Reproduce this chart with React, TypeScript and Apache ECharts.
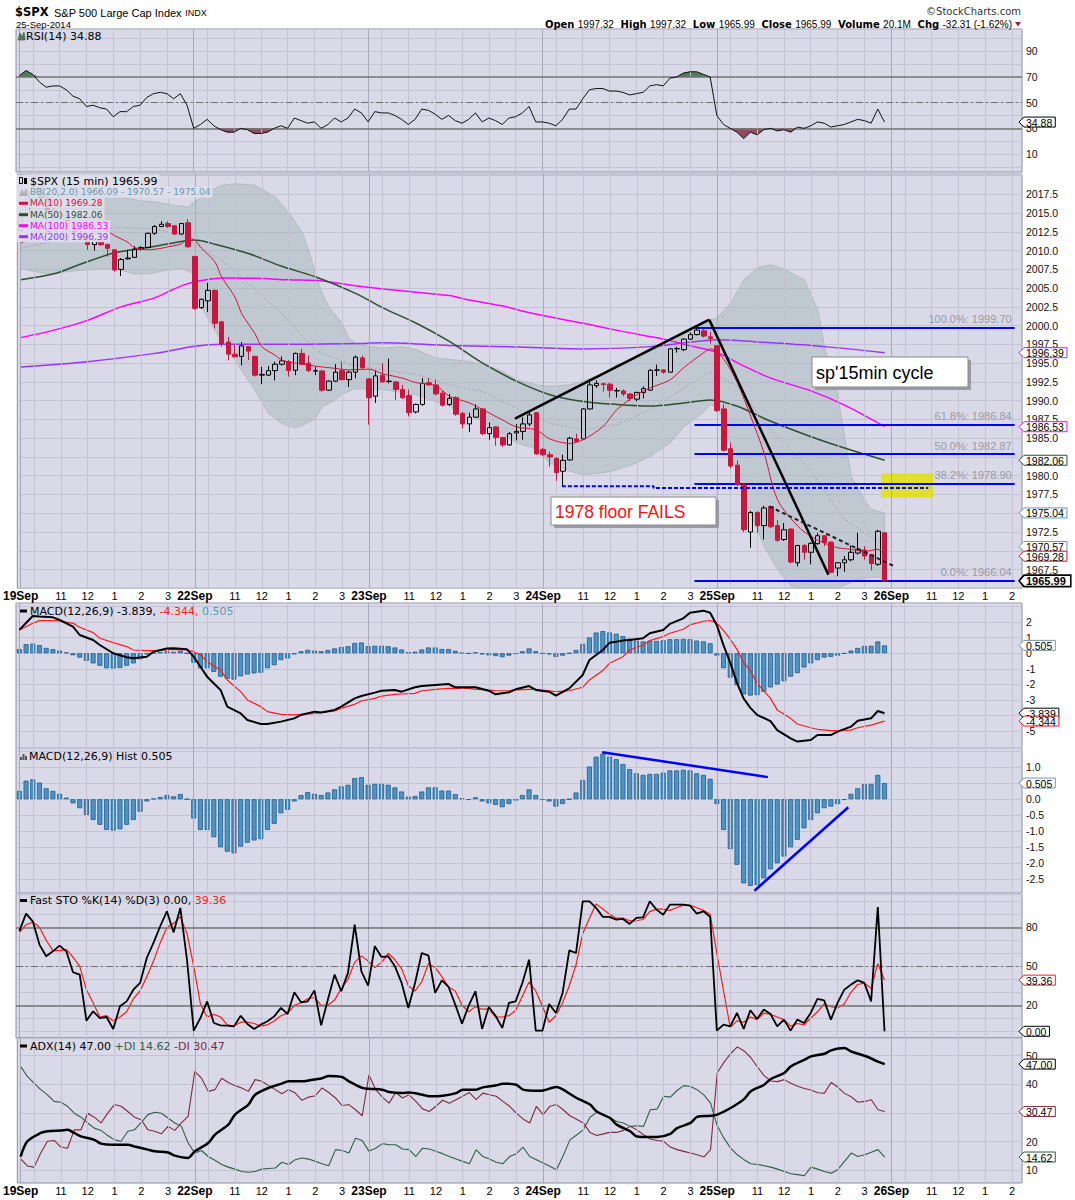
import React, { useEffect, useRef } from 'react';
import * as echarts from 'echarts';

// ---------------- categories (15-min bars) ----------------
const DAYS = ['19Sep', '22Sep', '23Sep', '24Sep', '25Sep', '26Sep'];
const SLOTS = ['09:30','09:45','10:00','10:15','10:30','10:45','11:00','11:15','11:30','11:45','12:00','12:15','12:30','12:45','13:00','13:15','13:30','13:45','14:00','14:15','14:30','14:45','15:00','15:15','15:30','15:45'];
const FUTURE_SLOTS = 20;
const HOUR_LABELS: Record<string, string> = { '11:00': '11', '12:00': '12', '13:00': '1', '14:00': '2', '15:00': '3' };
const GRID_SLOTS = ['10:00', '11:00', '12:00', '13:00', '14:00', '15:00'];

// ---------------- price (OHLC) ----------------
const OPEN = [2012.7,2015.0,2017.8,2018.6,2017.0,2015.3,2014.5,2014.9,2013.6,2012.3,
2011.6,2010.8,2011.3,2010.8,2010.1,2007.5,2008.9,2009.1,2010.2,2010.4,
2012.3,2013.2,2013.6,2013.3,2012.2,2013.7,2009.2,2002.4,2003.3,2004.7,
2000.5,1997.8,1996.2,1995.9,1997.2,1995.9,1993.4,1993.4,1994.0,1994.85,
1995.2,1994.05,1996.3,1995.0,1993.95,1993.96,1991.4,1992.6,1994.0,1992.8,
1993.8,1995.7,1992.9,1990.6,1993.4,1992.55,1992.5,1991.5,1990.7,1988.5,
1989.5,1992.4,1992.1,1991.0,1989.5,1990.4,1988.3,1986.9,1987.8,1988.9,
1985.6,1986.5,1985.1,1984.1,1985.7,1985.9,1986.9,1988.4,1983.5,1982.8,
1982.3,1980.6,1982.1,1984.9,1984.9,1988.9,1992.0,1992.25,1992.2,1991.3,
1991.3,1990.9,1990.2,1991.1,1991.4,1994.05,1994.1,1993.8,1996.9,1996.8,
1998.2,1998.8,1999.3,1998.5,1997.32,1988.9,1983.6,1981.4,1978.8,1972.5,
1975.1,1973.35,1975.9,1973.35,1971.5,1972.9,1968.4,1970.7,1969.8,1970.95,
1972.0,1971.14,1967.7,1968.4,1968.8,1969.7,1970.1,1969.5,1968.2,1972.4];
const CLOSE = [2015.0,2017.8,2018.6,2017.0,2015.3,2014.5,2014.9,2013.6,2012.3,2011.6,
2010.8,2011.3,2010.8,2010.3,2007.4,2008.8,2009.0,2010.2,2010.4,2012.3,
2013.2,2013.5,2013.2,2012.2,2013.6,2010.5,2002.3,2003.5,2004.7,2000.3,
1997.6,1996.2,1995.85,1997.3,1996.6,1993.4,1993.5,1994.0,1994.85,1995.3,
1994.0,1996.3,1994.85,1994.0,1994.0,1991.4,1992.6,1993.8,1992.8,1993.8,
1995.8,1994.4,1990.4,1993.3,1992.5,1992.6,1991.5,1990.4,1988.4,1989.5,
1992.3,1992.1,1990.9,1989.4,1990.3,1988.2,1986.9,1987.8,1988.9,1985.6,
1986.4,1985.1,1984.1,1985.6,1985.9,1986.9,1988.1,1982.9,1982.8,1982.5,
1980.4,1982.05,1985.0,1984.6,1988.9,1992.1,1992.3,1992.15,1991.4,1991.35,
1990.9,1990.3,1991.1,1991.6,1994.05,1994.1,1993.8,1996.9,1996.95,1998.2,
1998.8,1999.4,1998.6,1998.3,1988.7,1983.4,1981.3,1978.8,1972.8,1975.1,
1973.35,1975.7,1973.2,1971.4,1972.8,1968.5,1970.7,1969.8,1971.0,1972.0,
1971.1,1967.13,1968.4,1968.8,1969.8,1970.2,1969.3,1968.3,1972.6,1965.99];
const HIGH = [2015.5,2018.2,2019.26,2018.9,2017.2,2015.8,2015.4,2015.1,2013.8,2012.6,
2011.8,2011.5,2011.4,2010.9,2010.2,2009.0,2010.1,2010.6,2010.6,2012.4,
2013.4,2013.9,2013.9,2013.4,2013.7,2014.2,2009.3,2003.6,2005.7,2004.8,
2000.6,1998.5,1997.5,1997.8,1997.3,1996.0,1994.5,1994.6,1995.2,1995.9,
1995.4,1996.4,1996.9,1996.0,1994.5,1994.1,1992.7,1994.85,1995.2,1994.0,
1996.0,1996.0,1993.0,1994.0,1995.0,1995.6,1992.6,1992.1,1991.5,1989.6,
1993.0,1993.0,1992.8,1991.3,1990.9,1990.6,1988.5,1988.4,1989.5,1989.0,
1987.1,1986.6,1985.2,1985.8,1986.9,1987.8,1988.6,1988.5,1983.7,1983.2,
1982.5,1982.8,1985.2,1985.6,1989.0,1992.9,1992.7,1992.4,1992.4,1991.7,
1991.5,1991.0,1991.2,1991.9,1994.2,1994.8,1994.2,1997.0,1997.2,1998.3,
1999.1,1999.8,1999.6,1999.2,1997.32,1989.5,1984.4,1982.0,1979.0,1975.3,
1975.3,1976.0,1976.0,1974.1,1973.7,1973.0,1970.8,1970.9,1971.1,1972.4,
1972.1,1971.3,1968.5,1969.3,1970.7,1972.4,1970.6,1969.6,1972.8,1972.5];
const LOW = [2012.5,2014.8,2017.3,2016.5,2015.0,2014.0,2014.1,2013.2,2012.0,2011.2,
2010.1,2010.0,2010.6,2009.2,2007.2,2006.6,2008.8,2009.0,2010.0,2010.3,
2012.1,2013.2,2013.0,2012.1,2012.1,2010.4,2002.1,2002.2,2001.8,1999.6,
1997.2,1995.4,1995.8,1994.7,1995.4,1993.2,1992.2,1993.3,1992.7,1994.7,
1993.2,1993.4,1994.7,1993.8,1993.4,1991.2,1991.3,1992.5,1992.7,1991.8,
1993.0,1994.2,1986.8,1989.7,1992.4,1992.3,1990.1,1990.2,1987.9,1988.3,
1989.3,1992.0,1990.7,1989.2,1989.3,1988.0,1986.3,1985.8,1987.7,1985.4,
1984.8,1984.0,1983.8,1984.0,1984.7,1984.8,1986.6,1982.8,1982.6,1981.2,
1979.3,1978.6,1982.0,1984.5,1984.8,1988.8,1991.7,1991.2,1990.4,1990.4,
1990.6,1989.9,1989.9,1990.3,1991.3,1993.3,1993.6,1993.7,1996.4,1996.6,
1998.1,1998.7,1998.4,1997.6,1988.5,1983.2,1981.0,1978.6,1972.5,1970.4,
1972.4,1971.5,1973.0,1971.2,1971.3,1968.3,1967.9,1968.8,1968.2,1970.8,
1970.6,1967.0,1966.6,1967.2,1968.6,1969.5,1968.8,1967.4,1968.0,1965.99];

// ---------------- overlays read at sample bars [bar, value] ----------------
const MA10 = [[0,2011.0],[4,2012.5],[8,2013.3],[12,2013.0],[14,2012.0],[16,2011.1],[17,2010.4],[19,2010.1],[21,2010.3],[22,2010.5],[24,2010.9],[25,2011.6],[26,2011.4],[27,2010.3],[29,2008.5],[30,2006.5],[32,2003.8],[33,2001.6],[35,1998.9],[36,1997.2],[38,1996.05],[39,1995.4],[41,1995.0],[42,1994.9],[44,1994.6],[47,1994.3],[49,1994.1],[52,1994.2],[54,1993.6],[57,1993.0],[59,1992.4],[62,1992.0],[64,1990.6],[67,1989.7],[69,1988.8],[72,1987.4],[74,1986.5],[77,1986.1],[79,1984.9],[82,1984.3],[84,1984.8],[87,1986.6],[89,1988.8],[92,1990.8],[94,1991.7],[97,1992.8],[99,1994.4],[102,1996.4],[103,1996.9],[105,1995.5],[107,1992.4],[109,1987.9],[111,1983.0],[113,1976.8],[116,1973.3],[118,1971.9],[120,1971.0],[122,1970.4],[124,1970.2],[126,1969.9],[128,1970.2],[129,1969.28]];
const MA50 = [[0,2006.1],[5,2006.9],[9,2008.2],[14,2009.7],[19,2010.4],[24,2011.2],[26,2011.4],[29,2010.85],[34,2009.6],[39,2007.9],[44,2006.5],[50,2004.3],[54,2002.4],[59,2000.35],[64,1997.9],[69,1995.0],[74,1992.6],[79,1990.8],[84,1989.9],[89,1989.5],[94,1989.3],[99,1989.7],[103,1990.1],[107,1989.25],[112,1987.25],[118,1985.2],[123,1983.7],[129,1982.06]];
const MA100 = [[0,1998.4],[5,1999.4],[10,2000.7],[15,2002.5],[20,2003.7],[24,2005.3],[27,2006.0],[30,2006.35],[35,2006.3],[40,2006.1],[45,2005.95],[50,2005.3],[56,2004.7],[64,2004.0],[67,2003.4],[72,2002.6],[76,2001.7],[84,2000.3],[90,1999.2],[96,1998.2],[100,1997.3],[104,1996.4],[108,1994.6],[112,1993.0],[118,1991.3],[123,1989.4],[129,1986.53]];
const MA200 = [[0,1994.5],[10,1995.2],[20,1996.3],[26,1997.25],[30,1997.5],[40,1997.5],[50,1997.6],[54,1997.7],[64,1997.35],[74,1997.15],[84,1996.9],[94,1997.2],[100,1997.8],[104,1998.1],[112,1997.7],[120,1997.2],[129,1996.39]];
const BB_UPPER = [[0,2016.0],[5,2018.5],[10,2019.0],[14,2017.3],[18,2016.6],[20,2016.5],[23,2016.0],[25,2015.8],[26,2016.5],[28,2017.8],[30,2018.7],[32,2018.9],[35,2018.7],[38,2017.1],[40,2015.1],[42,2012.5],[43,2010.0],[44,2006.9],[45,2004.3],[46,2002.5],[48,2000.3],[49,1998.3],[50,1997.6],[52,1997.25],[54,1997.0],[57,1997.2],[59,1996.8],[62,1995.7],[64,1995.5],[67,1995.2],[69,1994.8],[72,1993.9],[74,1992.8],[77,1992.1],[79,1991.9],[82,1992.1],[84,1992.6],[87,1993.7],[89,1994.8],[92,1995.6],[94,1996.6],[97,1997.7],[99,1998.8],[102,2000.4],[104,2001.0],[106,2003.0],[108,2006.1],[110,2007.7],[112,2008.1],[114,2007.5],[117,2006.1],[119,2002.1],[120,1997.2],[122,1990.6],[123,1985.3],[124,1979.9],[126,1976.8],[127,1975.5],[129,1975.04]];
const BB_MID = [[0,2010.3],[14,2013.1],[20,2012.9],[24,2012.0],[27,2010.3],[30,2008.7],[34,2005.6],[39,2001.6],[44,1996.7],[49,1994.9],[54,1994.1],[59,1993.5],[64,1992.1],[69,1991.2],[74,1989.0],[79,1987.0],[84,1986.1],[89,1986.8],[94,1988.8],[99,1991.7],[103,1993.8],[107,1991.9],[112,1986.1],[118,1980.6],[123,1974.2],[129,1970.57]];
const BB_LOWER = [[0,2007.6],[4,2006.9],[9,2007.4],[14,2007.6],[17,2006.9],[19,2006.9],[22,2007.4],[24,2007.6],[26,2006.9],[27,2002.5],[29,1999.4],[31,1996.7],[33,1994.05],[35,1991.4],[37,1988.3],[39,1986.95],[41,1986.4],[42,1986.7],[44,1987.6],[45,1989.2],[47,1990.1],[48,1990.9],[50,1991.6],[54,1991.5],[59,1990.8],[64,1989.25],[69,1987.25],[74,1984.4],[77,1983.6],[79,1981.7],[82,1980.6],[84,1980.15],[87,1980.4],[89,1980.8],[92,1981.7],[94,1982.6],[97,1984.4],[99,1986.5],[102,1988.5],[103,1989.5],[104,1989.0],[105,1987.5],[106,1984.0],[107,1980.0],[108,1977.0],[109,1975.0],[111,1970.6],[113,1967.5],[115,1965.3],[117,1964.6],[120,1964.6],[122,1965.0],[124,1965.8],[126,1966.4],[128,1966.5],[129,1966.09]];

// ---------------- indicators ----------------
const RSI = [71,75,72,66,62,63,63,60,55,53,47,48,46,45,39,43,43,47,48,54,
57,58,57,53,57,48,30,33,37,32,29,27,27,30,29,26,26,27,30,32,
30,38,36,34,35,30,33,38,35,38,45,42,35,43,42,42,40,37,33,37,
45,44,41,37,40,36,34,37,42,35,38,36,33,38,39,42,47,35,35,34,
32,37,45,45,53,60,61,61,59,59,58,56,57,58,63,64,63,69,70,73,
74,74,72,70,40,33,30,27,22,27,25,29,30,28,29,27,31,30,32,35,
34,31,32,33,35,37,36,34,45,34.88];
const MACD = [[0,1.5],[2,2.39],[3,2.35],[5,2.3],[6,2.13],[8,1.71],[9,1.17],[11,0.85],[12,0.53],[14,0.0],[16,-0.26],[17,-0.32],[19,-0.22],[20,0.1],[22,0.3],[23,0.32],[25,0.25],[26,-0.22],[27,-0.86],[28,-1.5],[30,-2.35],[31,-3.42],[33,-3.85],[34,-4.28],[36,-4.53],[37,-4.53],[39,-4.38],[41,-4.17],[42,-3.95],[44,-3.74],[45,-3.8],[47,-3.63],[48,-3.42],[50,-2.89],[51,-2.74],[53,-2.52],[54,-2.4],[56,-2.35],[57,-2.46],[59,-2.18],[60,-2.1],[62,-2.03],[64,-1.97],[65,-2.18],[67,-2.18],[68,-2.18],[70,-2.4],[71,-2.63],[73,-2.5],[74,-2.31],[76,-2.1],[77,-2.35],[79,-2.46],[80,-2.72],[82,-2.25],[84,-1.39],[85,-0.43],[87,0.21],[88,0.68],[90,0.81],[91,0.85],[93,0.96],[94,1.28],[96,1.49],[97,1.88],[99,2.24],[100,2.6],[102,2.73],[103,2.6],[104,1.8],[105,0.5],[106,-0.6],[107,-1.9],[108,-2.9],[109,-3.5],[110,-3.95],[112,-4.35],[113,-4.92],[115,-5.45],[116,-5.66],[118,-5.56],[119,-5.24],[121,-5.24],[122,-5.02],[124,-4.7],[125,-4.32],[127,-4.17],[128,-3.7],[129,-3.839]];
const SIGNAL = [[0,1.49],[2,1.92],[3,2.09],[5,2.09],[6,2.07],[8,1.92],[9,1.67],[11,1.32],[12,0.96],[14,0.68],[16,0.43],[17,0.21],[19,0.17],[20,0.17],[22,0.21],[23,0.25],[25,0.21],[26,0.1],[27,-0.11],[28,-0.54],[30,-1.07],[31,-1.71],[33,-2.46],[34,-2.99],[36,-3.42],[37,-3.74],[39,-3.91],[41,-3.95],[42,-3.91],[44,-3.85],[45,-3.8],[47,-3.7],[48,-3.53],[50,-3.27],[51,-3.06],[53,-2.89],[54,-2.74],[56,-2.63],[57,-2.61],[59,-2.57],[60,-2.4],[62,-2.31],[64,-2.25],[65,-2.25],[67,-2.25],[68,-2.31],[70,-2.35],[71,-2.4],[73,-2.4],[74,-2.35],[76,-2.31],[77,-2.31],[79,-2.4],[80,-2.46],[82,-2.4],[84,-2.18],[85,-1.71],[87,-1.11],[88,-0.64],[90,-0.22],[91,0.21],[93,0.53],[94,0.81],[96,1.07],[97,1.28],[99,1.54],[100,1.82],[102,2.05],[103,2.1],[104,1.95],[105,1.45],[106,0.9],[107,0.25],[108,-0.6],[109,-1.1],[110,-1.93],[112,-2.89],[113,-3.63],[115,-4.17],[116,-4.53],[118,-4.77],[119,-4.87],[121,-4.96],[122,-4.96],[124,-4.92],[125,-4.77],[127,-4.6],[129,-4.344]];
const HIST = [0.26,0.58,0.62,0.52,0.34,0.26,0.17,0.05,-0.13,-0.28,-0.49,-0.65,-0.8,-0.96,-0.98,-0.94,-0.8,-0.65,-0.39,-0.07,
0.02,0.07,0.13,0.09,0.16,0.0,-0.6,-0.96,-0.96,-1.19,-1.5,-1.64,-1.69,-1.48,-1.36,-1.29,-1.25,-0.96,-0.77,-0.44,
-0.33,-0.07,0.13,0.22,0.17,0.13,0.21,0.31,0.4,0.45,0.66,0.69,0.45,0.48,0.48,0.45,0.37,0.24,0.08,0.1,
0.24,0.37,0.37,0.27,0.27,0.16,0.03,-0.02,0.06,-0.07,-0.13,-0.18,-0.25,-0.15,-0.04,0.13,0.31,0.13,-0.02,-0.07,
-0.23,-0.15,0.0,0.21,0.6,1.02,1.33,1.42,1.33,1.25,1.1,0.94,0.81,0.76,0.79,0.79,0.83,0.9,0.9,0.92,
0.9,0.81,0.76,0.64,-0.15,-0.96,-1.56,-2.05,-2.63,-2.71,-2.68,-2.47,-2.19,-2.0,-1.79,-1.5,-1.27,-0.91,-0.65,-0.44,
-0.28,-0.23,-0.15,-0.02,0.17,0.34,0.47,0.48,0.76,0.505];
const STO_K = [77,90.5,84.6,66.7,57.7,61.5,65.9,61.5,45.4,43.6,8.2,15.4,10.2,11,1.8,19.2,23,32,37.2,56.4,
68,80.8,92.3,76.1,94.9,55,0.5,10.2,23,6.4,4.6,4.3,3.8,12,5.6,1.8,5.1,7.7,11.5,18,
13.3,30,22.3,23,31.5,4.6,24.3,43.6,30.8,44.9,82,46.1,35.1,65.4,57.2,57.7,50,37.2,18,37.2,
60.2,58.2,29.5,39.2,34.1,20.5,5.9,19.7,30.8,1.8,18.7,12,2.6,21.8,23,37.2,55.1,0.5,0.5,21,
14.1,29.5,62.3,60.2,100,100,94.9,88,88,85.9,86.4,82.6,87.2,87.7,100,93.6,89.7,97.4,97.4,97.4,
96.7,90.5,92.3,88,0.5,5.1,3.8,14.1,1.8,16.2,9.5,16.7,13.3,3.8,9,0.5,9,6.4,14.1,24.9,
23.8,9,21.8,32,35.9,39.2,37.2,23,95.6,0.0];
const STO_D = [76,82,84,80,70,62,62,63,57,50,32,22,11,12,8,11,15,25,31,42,
54,68,80,83,88,75,50,21,11,13,11,5,4,7,7,6,4,5,8,12,
14,20,22,25,26,20,20,24,33,40,53,58,54,49,53,60,55,48,35,31,
38,52,49,42,34,31,20,15,19,17,17,11,11,12,16,27,38,31,19,7,
12,22,35,51,75,87,98,94,90,87,87,85,85,86,92,94,94,93,95,97,
97,95,93,90,60,31,3,8,7,11,9,14,13,11,9,4,6,5,10,15,
21,19,18,21,30,36,37,33,52,39.36];
const ADX = [[0,14.8],[1,20.1],[3,23.0],[4,23.6],[6,23.9],[7,24.1],[8,23.0],[9,21.8],[11,20.6],[12,19.3],[14,18.9],[16,18.9],[17,18.3],[19,17.2],[20,16.6],[22,16.2],[23,15.1],[25,14.3],[26,16.6],[28,19.5],[29,22.4],[31,25.9],[32,29.4],[34,32.9],[35,36.3],[37,38.7],[39,40.2],[40,41.0],[42,41.0],[43,41.3],[45,42.1],[46,42.9],[48,42.5],[49,41.0],[51,38.7],[52,38.4],[54,38.1],[55,37.3],[57,36.9],[58,37.1],[60,36.3],[61,35.8],[63,36.0],[65,36.9],[66,38.1],[68,38.1],[69,38.9],[71,39.6],[72,40.2],[74,39.8],[75,38.1],[77,37.7],[78,37.8],[80,39.0],[81,38.1],[83,35.2],[85,32.9],[86,30.5],[88,28.2],[89,25.9],[91,23.6],[92,21.8],[94,21.6],[95,21.6],[97,22.7],[98,24.7],[100,26.5],[101,28.6],[103,29.0],[104,29.4],[106,31.7],[108,34.8],[109,37.5],[111,39.8],[112,41.8],[114,43.9],[115,46.2],[117,48.5],[118,49.7],[120,50.6],[121,51.8],[123,52.6],[124,51.4],[126,49.9],[128,47.9],[129,47.0]];
const PLUS_DI = [46.2,42.7,40.4,38.1,36.3,34.0,33.7,32.3,29.9,28.5,
26.5,24.7,23.9,22.1,20.6,20.1,23.6,24.1,26.7,29.4,
30.2,29.9,28.2,26.5,25.3,19.5,16.0,16.9,14.8,13.5,
12.0,11.1,10.4,9.6,9.3,9.6,10.4,10.6,10.8,12.8,
12.0,13.7,14.3,13.9,13.1,12.3,11.6,17.2,16.9,16.0,
21.2,20.4,16.6,17.7,19.3,18.9,18.9,17.4,17.2,14.8,
17.7,17.4,16.6,15.8,14.8,13.9,13.1,12.3,17.2,14.8,
13.9,12.8,12.3,14.8,15.8,18.1,14.8,13.7,12.5,11.4,
10.2,15.1,20.6,22.3,24.1,28.5,30.2,29.4,28.2,27.0,
26.5,25.3,25.5,25.3,31.1,31.3,35.8,35.5,37.8,39.5,
39.2,38.1,36.3,33.4,25.5,21.2,17.7,15.4,13.7,12.3,
12.0,11.6,11.1,10.4,9.6,8.8,8.5,8.1,11.1,10.4,
9.6,9.0,10.2,13.1,16.0,14.8,15.4,16.3,17.2,14.62];
const MINUS_DI = [14.0,11.5,11.1,16.0,20.1,20.4,18.1,17.7,24.1,24.1,
29.9,28.5,26.5,29.9,32.9,32.3,30.5,28.5,27.6,24.1,
23.6,22.7,25.3,23.9,26.5,28.8,44.5,42.1,37.5,38.1,
42.1,40.6,39.5,38.7,37.5,41.6,41.0,39.5,38.1,36.7,
38.1,36.9,34.4,35.5,36.0,38.7,37.1,35.2,32.5,32.9,
31.1,29.0,43.3,38.1,35.5,33.4,37.1,35.2,36.3,34.0,
31.4,30.5,32.3,34.4,33.4,34.6,35.8,37.1,34.6,36.9,
36.3,35.8,34.0,32.3,29.9,27.9,26.5,32.3,29.4,32.3,
32.9,31.1,29.0,27.8,26.5,23.2,22.1,22.7,23.2,23.2,
23.9,25.3,24.1,22.4,20.9,20.4,20.1,18.1,17.2,16.6,
16.0,15.4,14.6,17.2,44.0,47.6,50.7,53.0,51.6,49.3,
46.0,43.0,41.1,40.9,41.6,40.3,39.3,38.5,38.0,37.0,
36.9,40.6,39.0,36.8,35.6,33.7,34.0,34.6,31.1,30.47];

// ---------------- annotations (bar, value) ----------------
const TREND_UP = [[73.8, 1987.6], [102.8, 2000.8]];
const TREND_DOWN = [[102.8, 2000.8], [120.6, 1966.8]];
const TREND_DASH = [[111.8, 1975.9], [130.5, 1967.9]];
const FLOOR_LINE = [[80.8, 1978.6], [94.5, 1978.6], [94.5, 1978.35], [135.5, 1978.35]];
const FIB_LEVELS = [1999.70, 1986.84, 1982.87, 1978.90, 1966.04];
const FIB_PCTS = ['100.0%', '61.8%', '50.0%', '38.2%', '0.0%'];
const FIB_SPAN = [100.6, 148.4];
const YELLOW_BOX = [[128.5, 1980.3], [136.2, 1977.05]];
const HIST_LINE_1 = [[86.9, 1.47], [111.6, 0.69]];
const HIST_LINE_2 = [[109.6, -2.86], [123.6, -0.25]];

// tick labels per panel (right axis)
const RSI_TICKS = [10, 30, 50, 70, 90];
const PRICE_TICKS = [2017.5, 2015, 2012.5, 2010, 2007.5, 2005, 2002.5, 2000, 1997.5, 1995, 1992.5, 1990, 1987.5, 1985, 1980, 1977.5, 1972.5, 1967.5];
const MACD_TICKS = [2, 1, 0, -1, -2, -3, -5];
const HIST_TICKS = [1, 0, -0.5, -1, -1.5, -2, -2.5];
const STO_TICKS = [20, 50, 80];
const ADX_TICKS = [10, 20, 40, 50];

// ---------------- styling ----------------
const FA = '"Liberation Sans", Arial, sans-serif';
const FV = '"DejaVu Sans", Verdana, sans-serif';
const BG = '#d9d9e8';
const GRIDC = '#c3c3d5';
const DAYC = '#a9a9bb';
const RED = '#c8173f';
const BBC = '#5f9bb3';
const MA10C = '#d0143a';
const MA50C = '#2f4f2f';
const MA100C = '#ff00ff';
const MA200C = '#9933ff';
const PDIC = '#2f5f45';
const MDIC = '#7d2a3e';
const LEFT = 16;
const RIGHT_EDGE = 1022;

const CATS: string[] = [];
DAYS.forEach((d, di) => {
  const n = di === DAYS.length - 1 ? FUTURE_SLOTS : SLOTS.length;
  for (let s = 0; s < n; s++) CATS.push(d + ' ' + SLOTS[s]);
});
const NCAT = CATS.length;

function xLabel(val: string): string {
  const [d, t] = val.split(' ');
  if (t === '09:30') return '{d|' + d + '}';
  if (HOUR_LABELS[t]) return '{h|' + HOUR_LABELS[t] + '}';
  return '';
}

const VLINES = CATS.map((c, i) => {
  const t = c.split(' ')[1];
  if (t === '09:30') return { i, day: true };
  if (GRID_SLOTS.indexOf(t) >= 0) return { i, day: false };
  return null;
}).filter(Boolean) as { i: number; day: boolean }[];

const inTicks = (ticks: number[], v: number) => ticks.some((t) => Math.abs(t - v) < 1e-6);

type Panel = { top: number; height: number; min: number; max: number; step: number; fmt: (v: number) => string };
const PANELS: Panel[] = [
  { top: 29, height: 143, min: -3.97, max: 107.3, step: 10, fmt: (v) => (inTicks(RSI_TICKS, v) ? String(Math.round(v)) : '') },
  { top: 174, height: 414.3, min: 1965, max: 2020.2, step: 2.5, fmt: (v) => (inTicks(PRICE_TICKS, v) ? v.toFixed(1) : '') },
  { top: 603, height: 144.7, min: -6.05, max: 3.22, step: 1, fmt: (v) => (inTicks(MACD_TICKS, v) ? String(Math.round(v)) : '') },
  { top: 748, height: 145, min: -2.93, max: 1.6, step: 0.5, fmt: (v) => (inTicks(HIST_TICKS, v) ? v.toFixed(1) : '') },
  { top: 894, height: 144, min: -5.15, max: 105.6, step: 10, fmt: (v) => (inTicks(STO_TICKS, v) ? String(Math.round(v)) : '') },
  { top: 1038, height: 145, min: 5.57, max: 56.1, step: 10, fmt: (v) => (inTicks(ADX_TICKS, v) ? String(Math.round(v)) : '') },
];

const idx = (arr: number[]) => arr.map((v, i) => [i, v]);

function gridLinesSeries(g: number) {
  return {
    type: 'line', xAxisIndex: 2 * g + 1, yAxisIndex: g, data: [[-10, PANELS[g].min + 1]], symbol: 'none',
    lineStyle: { width: 0 }, silent: true, z: 1,
    markLine: {
      silent: true, symbol: ['none', 'none'], label: { show: false }, animation: false,
      data: VLINES.map((v) => ({ xAxis: v.i, lineStyle: { color: v.day ? DAYC : GRIDC, width: 1, type: 'solid' } })),
    },
  };
}

function lineS(g: number, data: any[], color: string, width: number, extra: any = {}) {
  return { type: 'line', xAxisIndex: 2 * g + 1, yAxisIndex: g, data, symbol: 'none', showSymbol: false, silent: true, lineStyle: { color, width }, z: 4, ...extra };
}

function hLevel(v: number, dashed: boolean) {
  return { yAxis: v, lineStyle: dashed ? { color: '#6e6e6e', width: 1, type: [7, 3, 2, 3] } : { color: '#747474', width: 1.5, type: 'solid' } };
}

function buildOption() {
  const grid = PANELS.map((p) => ({ left: LEFT, right: 1075 - RIGHT_EDGE, top: p.top, height: p.height, show: true, backgroundColor: BG, borderColor: '#8e8e9e', borderWidth: 1 }));
  const xAxis: any[] = [];
  PANELS.forEach((p, g) => {
    const showLab = g === 1 || g === 5;
    xAxis.push({
      type: 'category', gridIndex: g, data: CATS, boundaryGap: true,
      axisLine: { show: false }, axisTick: { show: false }, splitLine: { show: false },
      axisLabel: showLab ? {
        show: true, margin: 2, interval: (i: number, val: string) => xLabel(val) !== '', formatter: (val: string) => xLabel(val),
        rich: { d: { fontWeight: 'bold', fontSize: 12, fontFamily: FA, color: '#000' }, h: { fontSize: 11, fontFamily: FA, color: '#000' } },
      } : { show: false },
    });
    xAxis.push({ type: 'value', gridIndex: g, min: -0.5, max: NCAT - 0.5, show: false, splitLine: { show: false } });
  });
  const yAxis = PANELS.map((p, g) => ({
    type: 'value', gridIndex: g, position: 'right', min: p.min, max: p.max,
    minInterval: p.step, maxInterval: p.step, splitNumber: Math.round((p.max - p.min) / p.step),
    axisLine: { show: false }, axisTick: { show: false },
    splitLine: { show: true, lineStyle: { color: GRIDC, width: 1 } },
    axisLabel: { show: true, margin: 4, color: '#111', fontSize: 10.5, fontFamily: FA, formatter: p.fmt, showMinLabel: false, showMaxLabel: false },
  }));

  const series: any[] = [];
  // RSI panel
  series.push(gridLinesSeries(0));
  series.push(lineS(0, RSI.map((v, i) => [i, Math.max(v, 70)]), '#000', 0, { areaStyle: { origin: 70, color: '#4e7d5e', opacity: 1 }, z: 2 }));
  series.push(lineS(0, RSI.map((v, i) => [i, Math.min(v, 30)]), '#000', 0, { areaStyle: { origin: 30, color: '#8e4c5e', opacity: 1 }, z: 2 }));
  series.push(lineS(0, idx(RSI), '#111', 1, {
    z: 5,
    markLine: { silent: true, symbol: ['none', 'none'], label: { show: false }, data: [hLevel(70, false), hLevel(30, false), hLevel(50, true)] },
  }));

  // Price panel
  series.push(gridLinesSeries(1));
  series.push({
    type: 'custom', xAxisIndex: 3, yAxisIndex: 1, clip: true, silent: true, z: 2, data: [[0, 1990]],
    renderItem: (params: any, api: any) => {
      const pts = BB_UPPER.map((p) => api.coord(p)).concat(BB_LOWER.slice().reverse().map((p) => api.coord(p)));
      return { type: 'polygon', shape: { points: pts }, style: { fill: 'rgba(158,178,176,0.42)', stroke: '#b3bcbd', lineWidth: 1 } };
    },
  });
  series.push(lineS(1, BB_MID, '#a4a4a8', 1, { lineStyle: { color: '#a4a4a8', width: 1, type: [2, 2] }, z: 3 }));
  series.push(lineS(1, MA200, MA200C, 1.5, { smooth: 0.3, z: 3 }));
  series.push(lineS(1, MA100, MA100C, 1.5, { smooth: 0.3, z: 3 }));
  series.push(lineS(1, MA50, MA50C, 1.5, { smooth: 0.3, z: 3 }));
  series.push(lineS(1, [[-10, 1990]], '#000', 0, {
    z: 3,
    markArea: { silent: true, itemStyle: { color: 'rgba(226,226,10,0.85)' }, data: [[{ coord: YELLOW_BOX[0] }, { coord: YELLOW_BOX[1] }]] },
  }));
  series.push({
    type: 'candlestick', xAxisIndex: 2, yAxisIndex: 1, z: 5, barWidth: 5, silent: true,
    data: OPEN.map((o, i) => [o, CLOSE[i], LOW[i], HIGH[i]]),
    itemStyle: { color: 'rgba(0,0,0,0)', color0: RED, borderColor: '#000', borderColor0: RED, borderWidth: 1 },
  });
  series.push(lineS(1, MA10, MA10C, 1, { smooth: 0.3, z: 6 }));
  series.push(lineS(1, [[-10, 1990]], '#000', 0, {
    z: 7,
    markLine: {
      silent: true, symbol: ['none', 'none'],
      data: FIB_LEVELS.map((lv, k) => [
        { coord: [FIB_SPAN[0], lv], lineStyle: { color: '#0000ff', width: 2, type: 'solid' }, label: { show: true, position: 'insideEndTop', formatter: FIB_PCTS[k] + ': ' + lv.toFixed(2), color: '#9a9aa4', fontSize: 11, fontFamily: FA, distance: 3 } },
        { coord: [FIB_SPAN[1], lv] },
      ]),
    },
  }));
  series.push(lineS(1, FLOOR_LINE, '#0000ff', 2, { lineStyle: { color: '#0000ff', width: 2, type: [4, 2] }, z: 8 }));
  series.push(lineS(1, TREND_UP, '#000', 2.5, { z: 9 }));
  series.push(lineS(1, TREND_DOWN, '#000', 2.5, { z: 9 }));
  series.push(lineS(1, TREND_DASH, '#222', 2, { lineStyle: { color: '#222', width: 2, type: [4, 3] }, z: 9 }));

  // MACD panel
  series.push(gridLinesSeries(2));
  series.push({ type: 'bar', xAxisIndex: 4, yAxisIndex: 2, data: HIST, barWidth: 5, silent: true, z: 3, itemStyle: { color: '#4a95c6', borderColor: '#1f5c8c', borderWidth: 0.8 } });
  series.push(lineS(2, SIGNAL, '#ff1a1a', 1.2, { z: 4 }));
  series.push(lineS(2, MACD, '#000', 2, { z: 5 }));

  // Histogram panel
  series.push(gridLinesSeries(3));
  series.push({ type: 'bar', xAxisIndex: 6, yAxisIndex: 3, data: HIST, barWidth: 5, silent: true, z: 3, itemStyle: { color: '#4a95c6', borderColor: '#1f5c8c', borderWidth: 0.8 } });
  series.push(lineS(3, HIST_LINE_1, '#0000ff', 2.5, { z: 6 }));
  series.push(lineS(3, HIST_LINE_2, '#0000ff', 2.5, { z: 6 }));

  // Fast stochastic panel
  series.push(gridLinesSeries(4));
  series.push(lineS(4, idx(STO_D), '#ff1a1a', 1.2, {
    z: 4,
    markLine: { silent: true, symbol: ['none', 'none'], label: { show: false }, data: [hLevel(80, false), hLevel(20, false), hLevel(50, true)] },
  }));
  series.push(lineS(4, idx(STO_K), '#000', 1.8, { z: 5 }));

  // ADX panel
  series.push(gridLinesSeries(5));
  series.push(lineS(5, idx(PLUS_DI), PDIC, 1.1, { z: 4 }));
  series.push(lineS(5, idx(MINUS_DI), MDIC, 1.1, { z: 4 }));
  series.push(lineS(5, ADX, '#000', 2.5, { smooth: 0.3, z: 5 }));

  return { animation: false, backgroundColor: '#ffffff', grid, xAxis, yAxis, series };
}

function textW(s: string, size = 11) {
  let w = 0;
  for (const ch of s) w += ch === '.' ? 0.28 : ch === '-' ? 0.34 : 0.556;
  return w * size;
}

function buildGraphic(chart: any) {
  const els: any[] = [];
  const T = (x: number, y: number, text: string, font: string, fill: string, extra: any = {}) =>
    els.push({ type: 'text', x, y, z: 50, silent: true, style: { text, font, fill, verticalAlign: 'middle', ...extra } });

  // header
  T(15, 12, '$SPX', 'bold 11.5px ' + FV, '#000');
  els.push({
    type: 'text', x: 54, y: 12.5, z: 50, silent: true,
    style: { verticalAlign: 'middle', text: '{a|S&P 500 Large Cap Index} {b|INDX}', rich: { a: { font: '11px ' + FA, fill: '#000' }, b: { font: '9px ' + FA, fill: '#000' } } },
  });
  T(16, 24, '25-Sep-2014', '9.5px ' + FA, '#000');
  T(1021, 11, '©StockCharts.com', '10px ' + FV, '#333', { align: 'right' });
  els.push({
    type: 'text', x: 1012, y: 24, z: 50, silent: true,
    style: {
      align: 'right', verticalAlign: 'middle',
      text: '{b|Open} {n|1997.32}  {b|High} {n|1997.32}  {b|Low} {n|1965.99}  {b|Close} {n|1965.99}  {b|Volume} {n|20.1M}  {b|Chg} {n|-32.31 (-1.62%)}',
      rich: { b: { font: 'bold 10px ' + FV, fill: '#000' }, n: { font: '10px ' + FA, fill: '#000' } },
    },
  });
  els.push({ type: 'polygon', z: 50, silent: true, shape: { points: [[1015, 22], [1021, 22], [1018, 26.5]] }, style: { fill: '#a0183a' } });

  // RSI legend
  els.push({ type: 'polygon', z: 50, silent: true, shape: { points: [[18, 40], [20, 33], [22, 37], [24, 32], [25, 40]] }, style: { fill: '#4e7d5e', stroke: '#2e4e3e', lineWidth: 0.6 } });
  T(26, 36, 'RSI(14) 34.88', '11px ' + FV, '#000');

  // price legend
  const rowsY = [181, 192.3, 203.3, 214.7, 225.7, 236.7];
  els.push({ type: 'rect', z: 48, silent: true, shape: { x: 17, y: 175, width: 12, height: 67 }, style: { fill: 'rgba(222,222,236,0.92)' } });
  const rowBg = { backgroundColor: 'rgba(222,222,236,0.92)', padding: [1, 2, 1, 1] };
  T(29, rowsY[0], '$SPX (15 min) 1965.99', '11px ' + FV, '#000', rowBg);
  T(29, rowsY[1], 'BB(20,2.0) 1966.09 - 1970.57 - 1975.04', '9px ' + FV, BBC, rowBg);
  T(29, rowsY[2], 'MA(10) 1969.28', '9px ' + FV, MA10C, rowBg);
  T(29, rowsY[3], 'MA(50) 1982.06', '9px ' + FV, MA50C, rowBg);
  T(29, rowsY[4], 'MA(100) 1986.53', '9px ' + FV, MA100C, rowBg);
  T(29, rowsY[5], 'MA(200) 1996.39', '9px ' + FV, MA200C, rowBg);
  els.push({ type: 'rect', z: 51, silent: true, shape: { x: 19.5, y: 177.5, width: 3, height: 6 }, style: { fill: 'none', stroke: '#000', lineWidth: 1 } });
  els.push({ type: 'rect', z: 51, silent: true, shape: { x: 24, y: 178, width: 3, height: 6 }, style: { fill: '#000' } });
  els.push({ type: 'polygon', z: 51, silent: true, shape: { points: [[19, 196], [22, 189], [24, 193], [26, 188], [28, 196]] }, style: { fill: '#b0b0b8' } });
  [[MA10C, rowsY[2]], [MA50C, rowsY[3]], [MA100C, rowsY[4]], [MA200C, rowsY[5]]].forEach(([c, y]: any) => {
    els.push({ type: 'line', z: 51, silent: true, shape: { x1: 19, y1: y, x2: 28, y2: y }, style: { stroke: c, lineWidth: 3 } });
  });

  // text boxes
  const box = (x: number, y: number, w: number, h: number) => {
    els.push({ type: 'rect', z: 60, silent: true, shape: { x: x + 3, y: y + 3, width: w, height: h }, style: { fill: '#9a9aa6' } });
    els.push({ type: 'rect', z: 61, silent: true, shape: { x, y, width: w, height: h }, style: { fill: '#ffffff', stroke: '#8a8a8a', lineWidth: 1 } });
  };
  box(812, 357, 156, 30);
  els.push({ type: 'text', x: 816, y: 373, z: 62, silent: true, style: { text: "sp'15min cycle", font: '18px ' + FA, fill: '#000', verticalAlign: 'middle' } });
  box(551, 497, 165, 28);
  els.push({ type: 'text', x: 555, y: 512, z: 62, silent: true, style: { text: '1978 floor FAILS', font: '17.5px ' + FA, fill: '#ff1010', verticalAlign: 'middle' } });

  // MACD legend
  const dash = (y: number) => els.push({ type: 'line', z: 51, silent: true, shape: { x1: 20, y1: y, x2: 27, y2: y }, style: { stroke: '#000', lineWidth: 3 } });
  dash(611);
  els.push({ type: 'text', x: 30, y: 611, z: 50, silent: true, style: { verticalAlign: 'middle', text: '{a|MACD(12,26,9) -3.839,}{b| -4.344,}{c| 0.505}', rich: { a: { font: '11px ' + FV, fill: '#000' }, b: { font: '11px ' + FV, fill: '#ff1a1a' }, c: { font: '11px ' + FV, fill: BBC } } } });
  [[20, 3], [22.5, 6], [25, 4]].forEach(([x, h]) => els.push({ type: 'rect', z: 51, silent: true, shape: { x, y: 760 - h, width: 2, height: h }, style: { fill: '#555' } }));
  T(29, 756, 'MACD(12,26,9) Hist 0.505', '11px ' + FV, '#000');
  dash(900.5);
  els.push({ type: 'text', x: 30, y: 900.5, z: 50, silent: true, style: { verticalAlign: 'middle', text: '{a|Fast STO %K(14) %D(3) 0.00,}{b| 39.36}', rich: { a: { font: '11px ' + FV, fill: '#000' }, b: { font: '11px ' + FV, fill: '#ff1a1a' } } } });
  dash(1046);
  els.push({ type: 'text', x: 30, y: 1046, z: 50, silent: true, style: { verticalAlign: 'middle', text: '{a|ADX(14) 47.00}{b| +DI 14.62}{c| -DI 30.47}', rich: { a: { font: '11px ' + FV, fill: '#000' }, b: { font: '11px ' + FV, fill: PDIC }, c: { font: '11px ' + FV, fill: MDIC } } } });

  // right-axis value tags
  const TAGS: [number, number, string, string, boolean][] = [
    [0, 34.88, '34.88', '#000', false],
    [1, 1996.39, '1996.39', MA200C, false],
    [1, 1986.53, '1986.53', MA100C, false],
    [1, 1982.06, '1982.06', MA50C, false],
    [1, 1975.04, '1975.04', BBC, false],
    [1, 1970.57, '1970.57', BBC, false],
    [1, 1969.28, '1969.28', MA10C, false],
    [1, 1965.99, '1965.99', '#000', true],
    [2, 0.505, '0.505', '#7894a8', false],
    [2, -3.839, '-3.839', '#000', false],
    [2, -4.344, '-4.344', '#ff1a1a', false],
    [3, 0.505, '0.505', '#7894a8', false],
    [4, 39.36, '39.36', '#ff1a1a', false],
    [4, 0.0, '0.00', '#000', false],
    [5, 47.0, '47.00', '#000', false],
    [5, 30.47, '30.47', MDIC, false],
    [5, 14.62, '14.62', PDIC, false],
  ];
  TAGS.forEach(([g, v, label, color, bold]) => {
    const y = chart.convertToPixel({ yAxisIndex: g }, v);
    const fs = bold ? 11 : 10.5;
    const w = textW(label, fs) + (bold ? 7 : 5);
    const h = bold ? 11.5 : 10;
    const x0 = 1019;
    els.push({ type: 'polygon', z: 90, silent: true, shape: { points: [[x0, y], [x0 + 5, y - h / 2], [x0 + 5 + w, y - h / 2], [x0 + 5 + w, y + h / 2], [x0 + 5, y + h / 2]] }, style: { fill: '#fff', stroke: color, lineWidth: bold ? 1.6 : 1 } });
    els.push({ type: 'text', x: x0 + 7, y: y + 0.5, z: 91, silent: true, style: { text: label, font: (bold ? 'bold ' : '') + fs + 'px ' + FA, fill: '#000', verticalAlign: 'middle' } });
  });
  return els;
}

export default function App() {
  const ref = useRef<HTMLDivElement>(null);
  useEffect(() => {
    document.body.style.margin = '0';
    const chart = echarts.init(ref.current as HTMLDivElement, undefined, { renderer: 'svg', width: 1075, height: 1200 });
    chart.setOption(buildOption() as any);
    chart.setOption({ graphic: buildGraphic(chart) } as any);
    return () => chart.dispose();
  }, []);
  return <div ref={ref} style={{ width: 1075, height: 1200 }} />;
}
